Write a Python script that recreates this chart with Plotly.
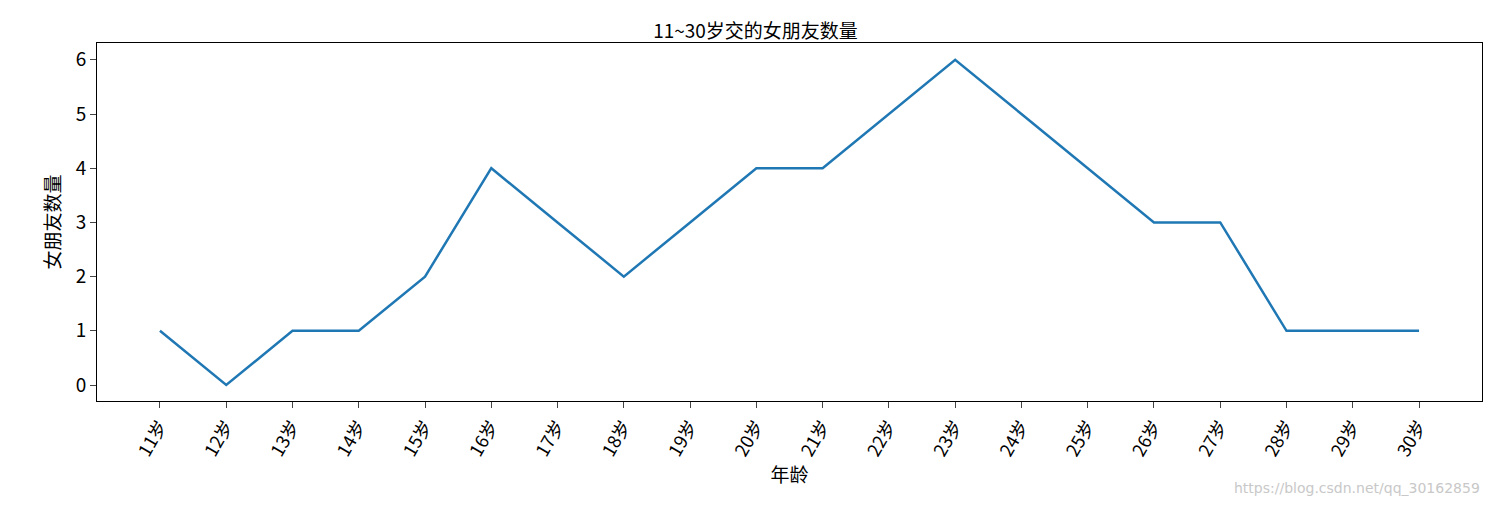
import plotly.graph_objects as go

ages = [f"{i}岁" for i in range(11, 31)]
counts = [1, 0, 1, 1, 2, 4, 3, 2, 3, 4, 4, 5, 6, 5, 4, 3, 3, 1, 1, 1]

fig = go.Figure(go.Scatter(x=ages, y=counts, mode="lines",
                           line=dict(color="#1f77b4", width=2.5)))
font = "Noto Sans CJK SC"
fig.update_layout(
    width=1495, height=516, plot_bgcolor="white", paper_bgcolor="white",
    margin=dict(l=89, r=21, t=35, b=123, autoexpand=False),
    font=dict(family=font, color="black", size=18),
    title=dict(text="11~30岁交的女朋友数量", x=0.5, xanchor="center", y=0.955, yanchor="middle",
               font=dict(size=19)),
    showlegend=False,
)
fig.update_xaxes(type="category", range=[-0.95, 19.95], showline=True, linecolor="black",
                 mirror=True, ticks="outside", ticklen=6, tickangle=-60, showgrid=False,
                 automargin=False,
                 title=dict(text="年龄", font=dict(size=19), standoff=8), tickfont=dict(size=18))
fig.update_yaxes(range=[-0.295, 6.31], showline=True, linecolor="black", mirror=True,
                 ticks="outside", ticklen=6, showgrid=False, zeroline=False, dtick=1,
                 automargin=False,
                 title=dict(text="女朋友数量", font=dict(size=19), standoff=10), tickfont=dict(size=19))
fig.add_annotation(text="https://blog.csdn.net/qq_30162859", xref="paper", yref="paper",
                   x=1.0, y=-0.27, xanchor="right", showarrow=False,
                   font=dict(size=14, color="#c8c8c8", family="DejaVu Sans"))
fig.write_html("out.html")
